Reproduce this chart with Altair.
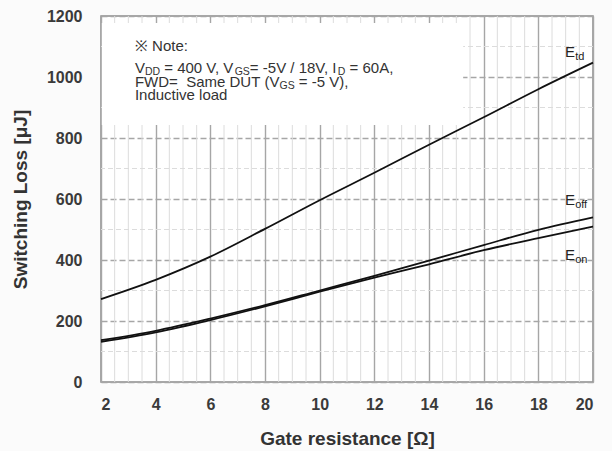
import altair as alt
import pandas as pd
import numpy as np

# ---- data ----
rg = [2, 4, 6, 8, 10, 12, 14, 16, 18, 20]
e_td = [272, 335, 411, 502, 596, 686, 778, 868, 960, 1047]
e_off = [137, 168, 208, 252, 300, 348, 398, 449, 499, 540]
e_on = [132, 163, 203, 248, 296, 342, 386, 432, 472, 510]

x_ticks = [2, 4, 6, 8, 10, 12, 14, 16, 18, 20]
y_ticks = [0, 200, 400, 600, 800, 1000, 1200]

note_lines = [
    [("※ Note:", False)],
    [("V", False), ("DD", True), (" = 400 V, V", False), ("GS", True),
     ("= -5V / 18V, I", False), ("D", True), (" = 60A,", False)],
    [("FWD=  Same DUT (V", False), ("GS", True), (" = -5 V),", False)],
    [("Inductive load", False)],
]
curve_labels = [
    [("E", False), ("td", True)],
    [("E", False), ("off", True)],
    [("E", False), ("on", True)],
]

# ---- layout ----
W, H = 492, 366
XMIN, XMAX, YMIN, YMAX = 2, 20, 0, 1200
px_x = (XMAX - XMIN) / W
px_y = (YMAX - YMIN) / H
FONT = "Liberation Sans"

AW = {' ': 278, ',': 278, '-': 333, '.': 278, '/': 278, ':': 278, '=': 584,
      '(': 333, ')': 333, 'A': 667, 'D': 722, 'E': 667, 'F': 611, 'G': 778,
      'I': 278, 'N': 722, 'O': 778, 'S': 667, 'T': 611, 'U': 722, 'V': 667,
      'W': 944, 'a': 556, 'c': 500, 'd': 556, 'e': 556, 'f': 278, 'g': 556,
      'h': 556, 'i': 222, 'l': 222, 'm': 833, 'n': 556, 'o': 556, 'r': 333,
      's': 500, 't': 278, 'u': 556, 'v': 500, '※': 1000}


def tw(s, size):
    return sum(AW.get(c, 556) for c in s) * size / 1000.0


def build(lines, x0, ys, size, sub_size, sub_dy):
    rows = []
    for line, yv in zip(lines, ys):
        off = 0.0
        for txt, sub in line:
            fs = sub_size if sub else size
            lead = len(txt) - len(txt.lstrip(" "))
            core = txt.strip(" ").replace(" ", "\u00a0")
            start = off + lead * tw(" ", fs)
            rows.append({"t": core, "x": x0 + start * px_x,
                         "y": yv - (sub_dy if sub else 0) * px_y, "fs": fs})
            off += tw(txt, fs)
    return pd.DataFrame(rows)


note_df = build(note_lines, 3.24, [1103, 1028, 984, 940], 15, 10.5, 4)
lab_rows = []
for lab, yv in zip(curve_labels, [1082, 597, 417]):
    lab_rows.append(build([lab], 18.98, [yv], 15, 11, 5))
lab_df = pd.concat(lab_rows, ignore_index=True)

df = pd.DataFrame({
    "rg": rg * 3,
    "e": e_td + e_off + e_on,
    "s": ["Etd"] * len(rg) + ["Eoff"] * len(rg) + ["Eon"] * len(rg),
})

xs = alt.Scale(domain=[XMIN, XMAX], nice=False, zero=False)
ys = alt.Scale(domain=[YMIN, YMAX], nice=False)

minor_x = pd.DataFrame({"x": [v for v in np.arange(2.5, 20, 0.5) if v % 2 != 0]})
minor_y = pd.DataFrame({"y": list(range(100, 1200, 200))})

vminor = alt.Chart(minor_x).mark_rule(color="#dcdcdc", strokeWidth=1).encode(
    x=alt.X("x:Q", scale=xs))
hminor = alt.Chart(minor_y).mark_rule(color="#dcdcdc", strokeWidth=1,
                                      strokeDash=[5, 3]).encode(
    y=alt.Y("y:Q", scale=ys))

box = alt.Chart(pd.DataFrame({"x": [2.03], "x2": [15.25], "y": [843], "y2": [1177]})
                ).mark_rect(color="white").encode(
    x=alt.X("x:Q", scale=xs), x2="x2:Q", y=alt.Y("y:Q", scale=ys), y2="y2:Q")

lines = alt.Chart(df).mark_line(color="#111111", strokeWidth=1.8,
                                interpolate="monotone").encode(
    x=alt.X("rg:Q", scale=xs,
            axis=alt.Axis(values=x_ticks, title="Gate resistance [Ω]",
                          grid=True, gridColor="#a6a6a6", gridWidth=1.4,
                          ticks=False, domain=False, format="d",
                          labelFont=FONT, labelFontSize=16, labelFontWeight="bold",
                          labelColor="#3a3a3a", labelPadding=14,
                          titleFont=FONT, titleFontSize=19, titleFontWeight="bold",
                          titleColor="#333333", titleY=56, titleBaseline="middle")),
    y=alt.Y("e:Q", scale=ys,
            axis=alt.Axis(values=y_ticks, title="Switching Loss  [μJ]",
                          grid=True, gridColor="#a6a6a6", gridWidth=1.4,
                          gridDash=[6, 3], ticks=False, domain=False, format="d",
                          labelFont=FONT, labelFontSize=16, labelFontWeight="bold",
                          labelColor="#3a3a3a", labelPadding=19,
                          titleFont=FONT, titleFontSize=19, titleFontWeight="bold",
                          titleColor="#333333", titleX=-81, titleY=H / 2,
                          titleAngle=-90, titleAlign="center",
                          titleBaseline="middle")),
    detail="s:N",
)

note = alt.Chart(note_df).mark_text(align="left", baseline="middle", font=FONT,
                                    color="#333333").encode(
    x=alt.X("x:Q", scale=xs), y=alt.Y("y:Q", scale=ys), text="t:N",
    size=alt.Size("fs:Q", scale=None))

labs = alt.Chart(lab_df).mark_text(align="left", baseline="middle", font=FONT,
                                   color="#222222").encode(
    x=alt.X("x:Q", scale=xs), y=alt.Y("y:Q", scale=ys), text="t:N",
    size=alt.Size("fs:Q", scale=None))

chart = alt.layer(vminor, hminor, box, lines, note, labs).properties(
    width=W, height=H,
    autosize=alt.AutoSizeParams(type="none"),
    padding={"left": 101, "top": 16, "right": 19, "bottom": 69},
    background="#fbfbfb",
).configure_view(stroke="#8c8c8c", strokeWidth=1.5, fill="white")

chart.save("out.html", embed_options={"renderer": "svg", "actions": False})
